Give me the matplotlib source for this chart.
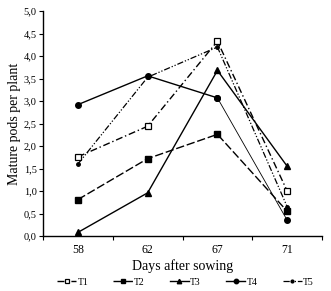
import matplotlib
matplotlib.use("Agg")
import matplotlib.pyplot as plt
from matplotlib.ticker import FuncFormatter

plt.rcParams["font.family"] = ["Liberation Serif", "DejaVu Serif"]

# Data
days = ["58", "62", "67", "71"]
t1 = [1.76, 2.44, 4.33, 1.00]
t2 = [0.81, 1.72, 2.26, 0.55]
t3 = [0.08, 0.96, 3.68, 1.55]
t4 = [2.92, 3.56, 3.07, 0.35]
t5 = [1.60, 3.53, 4.20, 0.65]

fig = plt.figure(figsize=(3.31, 2.91), dpi=100)
ax = fig.add_axes([0.13, 0.189, 0.843, 0.773])

x = list(range(len(days)))
ax.plot(x, t1, color="black", lw=1.0, ls=(0, (5, 2, 1, 2)), marker="s",
        ms=4, mfc="white", mec="black", mew=0.9, label="T1", zorder=5)
ax.plot(x, t2, color="black", lw=1.0, ls=(0, (6, 2)), marker="s",
        ms=4, label="T2")
ax.plot(x, t3, color="black", lw=1.0, ls="-", marker="^", ms=4, label="T3")
ax.plot(x[:3], t4[:3], color="black", lw=1.0, ls="-", marker="o", ms=4,
        label="T4")
ax.plot(x[2:], t4[2:], color="black", lw=0.6, ls="-", marker="o", ms=4)
ax.plot(x, t5, color="black", lw=0.9, ls=(0, (5, 1.5, 1, 1.5, 1, 1.5)),
        marker="o", ms=2.5, label="T5")

ax.set_xlim(-0.5, 3.5)
ax.set_ylim(0, 5)
ax.set_yticks([i * 0.5 for i in range(11)])
ax.yaxis.set_major_formatter(FuncFormatter(lambda v, p: f"{v:.1f}".replace(".", ",")))

ax.set_xticks([-0.5, 0.5, 1.5, 2.5, 3.5])
ax.set_xticklabels([])
ax.set_xticks(x, minor=True)
ax.set_xticklabels(days, minor=True)
ax.tick_params(axis="x", which="minor", length=0, pad=6, labelsize=8.5)
ax.tick_params(axis="x", which="major", length=3, direction="out", width=0.8)
ax.tick_params(axis="y", length=3, width=0.8, labelsize=7.5, pad=1.5)

for s in ["top", "right"]:
    ax.spines[s].set_visible(False)
for s in ["left", "bottom"]:
    ax.spines[s].set_linewidth(1.0)

ax.set_xlabel("Days after sowing", fontsize=10, labelpad=2)
ax.set_ylabel("Mature pods per plant", fontsize=10, labelpad=2)

fig.legend(loc="lower center", ncol=5, frameon=False, fontsize=7,
           bbox_to_anchor=(0.56, -0.015), handlelength=2.0, handletextpad=0.1,
           columnspacing=2.6, markerscale=0.8)

fig.savefig("out.png", dpi=100)
